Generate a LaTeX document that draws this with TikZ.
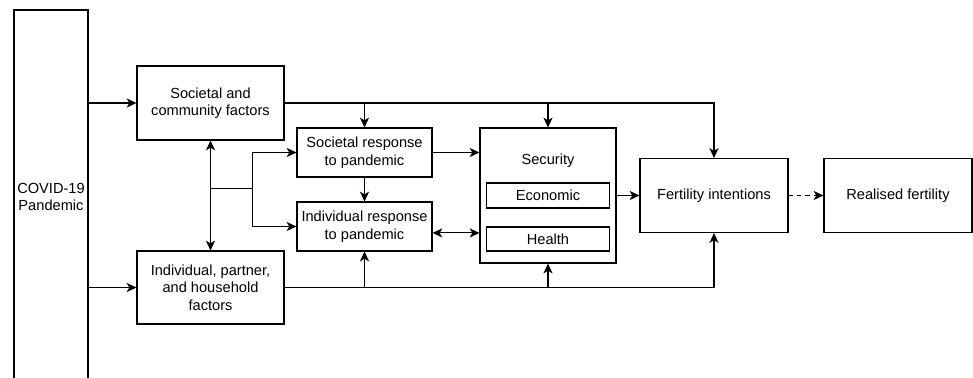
\documentclass[tikz,border=0pt]{standalone}
\usepackage{fontspec}
\setmainfont{Liberation Sans}
\usetikzlibrary{shapes,arrows.meta,calc}
\tikzstyle{block} = [rectangle, draw, line width=0.8pt,
    align=center, inner sep=1pt]
\tikzstyle{line} = [draw, line width=0.8pt, -{Stealth[length=7pt, width=6.5pt, inset=2pt]}]
\tikzstyle{dline} = [draw, line width=0.8pt, {Stealth[length=7pt, width=6.5pt, inset=2pt]}-{Stealth[length=7pt, width=6.5pt, inset=2pt]}]
\tikzstyle{plain} = [draw, line width=0.8pt]

\begin{document}
\begin{tikzpicture}[node distance = 4cm, font=\fontsize{10.4}{12.5}\selectfont]
    \useasboundingbox (0,0) rectangle (24.325,-9.425);
    \clip (0,0) rectangle (24.325,-9.425);
    \node[block, minimum width=1.85cm, minimum height=9.35cm] (covid) at (1.275,-4.925) {COVID-19\\Pandemic};
    \node[block, minimum width=3.675cm, minimum height=1.85cm] (soc) at (5.2625,-2.575) {Societal and\\community factors};
    \node[block, minimum width=3.675cm, minimum height=1.825cm, node distance=4.6125cm, below of=soc] (ind) {Individual, partner,\\and household\\factors};
    \node[block, minimum width=3.375cm, minimum height=1.225cm, node distance=3.85cm, right of=soc, yshift=-1.2375cm] (socresp) {Societal response\\to pandemic};
    \node[block, minimum width=3.375cm, minimum height=1.225cm, node distance=1.85cm, below of=socresp] (indresp) {Individual response\\to pandemic};
    \node[block, minimum width=3.4cm, minimum height=3.375cm, node distance=4.5875cm, right of=socresp, yshift=-1.075cm] (sec) {};
    \node (seclbl) at ([yshift=-0.825cm]sec.north) {Security};
    \node[block, minimum width=3.075cm, minimum height=0.625cm] (econ) at (sec) {Economic};
    \node[block, minimum width=3.075cm, minimum height=0.6cm, node distance=1.0875cm, below of=econ] (health) {Health};
    \node[block, minimum width=3.7cm, minimum height=1.85cm, node distance=4.15cm, right of=sec] (intent) {Fertility intentions};
    \node[block, minimum width=3.7cm, minimum height=1.85cm, node distance=4.6cm, right of=intent] (real) {Realised fertility};

    % junction between the two factor boxes
    \coordinate (jn) at ($(soc.south)!0.44!(ind.north)$);
    \coordinate (jb) at ($(socresp.west |- jn)+(-1.1cm,0)$);
    \coordinate (ib) at ([yshift=-0.16cm]indresp.east);

    \path[line] (covid.east |- soc.west) -- (soc.west);
    \path[line] (covid.east |- ind.west) -- (ind.west);
    \path[dline] (soc.south) -- (ind.north);
    \path[plain] (jn) -- (jb);
    \path[line] (jb) |- (socresp.west);
    \path[line] (jb) |- (indresp.west);
    \path[line] (soc.east) -| (intent.north);
    \path[line] (socresp.north |- soc.east) -- (socresp.north);
    \path[line] (sec.north |- soc.east) -- (sec.north);
    \path[line] (ind.east) -| (intent.south);
    \path[line] (indresp.south |- ind.east) -- (indresp.south);
    \path[line] (sec.south |- ind.east) -- (sec.south);
    \path[line] (socresp) -- (indresp);
    \path[line] (socresp.east) -- (socresp.east -| sec.west);
    \path[dline] (ib) -- (ib -| sec.west);
    \path[line] (sec.east) -- (sec.east -| intent.west);
    \path[line, dash pattern=on 3pt off 3pt] (intent) -- (real);
\end{tikzpicture}
\end{document}
